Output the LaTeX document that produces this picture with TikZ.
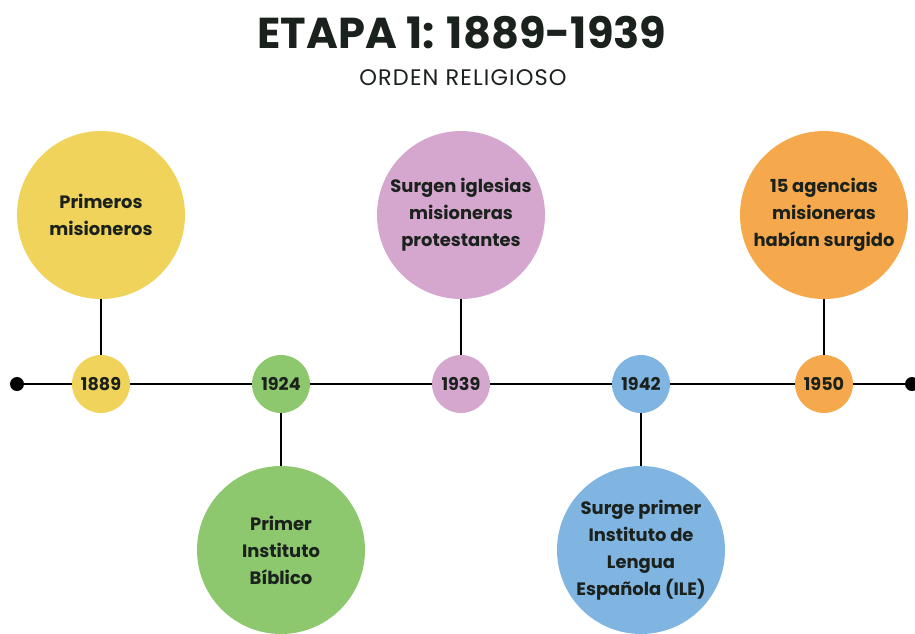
\documentclass[tikz,border=0pt]{standalone}
\usepackage{fontspec}
\setmainfont{Poppins}[BoldFont={Poppins Bold}]
\newfontfamily\titlefont{Poppins}[UprightFont={* Bold}]
\newfontfamily\subfont{Poppins}[LetterSpace=5]

\definecolor{ink}{HTML}{1B211C}
\definecolor{amarillo}{HTML}{F0D35A}
\definecolor{verde}{HTML}{8DC76E}
\definecolor{rosa}{HTML}{D5A7CF}
\definecolor{azul}{HTML}{80B5E1}
\definecolor{naranja}{HTML}{F5A94C}

\tikzset{
  year/.style  = {shape = circle, minimum size = 1.16cm, inner sep = 0pt,
                  text = ink, font = \bfseries\fontsize{10}{12}\selectfont},
  event/.style = {shape = circle, minimum size = 3.36cm, inner sep = 0pt,
                  text = ink, align = center,
                  font = \bfseries\fontsize{10.2}{15.4}\selectfont},
  stem/.style  = {line width = 1.2pt, draw = black},
  tip/.style   = {shape = circle, fill = black, minimum size = 0.28cm, inner sep = 0pt},
}

\begin{document}
\begin{tikzpicture}[x = 0.02cm, y = -0.02cm]
        \useasboundingbox (0, 0) rectangle (915, 633);

        % ------------------------------------------------------------------------
        % Title
        \node[font = \titlefont\fontsize{24.6}{28}\selectfont, text = ink] at (462, 33) (title) {ETAPA 1: 1889-1939};
        \node[font = \subfont\fontsize{12.8}{15}\selectfont, text = ink] at (463, 78) (sub) {ORDEN RELIGIOSO};

        % ------------------------------------------------------------------------
        % Line
        \node[tip] at ( 17, 384) (start) {};
        \node[tip] at (912, 384) (end) {};

        \node[year, fill = amarillo] at (101, 384) (y1889) {1889};
        \node[year, fill = verde]    at (281, 384) (y1924) {1924};
        \node[year, fill = rosa]     at (461, 384) (y1939) {1939};
        \node[year, fill = azul]     at (641, 384) (y1942) {1942};
        \node[year, fill = naranja]  at (824, 384) (y1950) {1950};

        \draw[stem]
          (start) edge (y1889)
          (y1889) edge (y1924)
          (y1924) edge (y1939)
          (y1939) edge (y1942)
          (y1942) edge (y1950)
          (y1950) edge (end)
        ;

        % ------------------------------------------------------------------------
        % Events
        \node[event, fill = amarillo] at (101, 215) (e1889) {Primeros\\misioneros};
        \node[event, fill = verde]    at (281, 550) (e1924) {Primer\\Instituto\\Bíblico};
        \node[event, fill = rosa]     at (461, 215) (e1939) {Surgen iglesias\\misioneras\\protestantes};
        \node[event, fill = azul]     at (641, 550) (e1942) {Surge primer\\Instituto de\\Lengua\\Española (ILE)};
        \node[event, fill = naranja]  at (824, 215) (e1950) {15 agencias\\misioneras\\habían surgido};

        \draw[stem]
          (e1889) edge (y1889)
          (y1924) edge (e1924)
          (e1939) edge (y1939)
          (y1942) edge (e1942)
          (e1950) edge (y1950)
        ;
      \end{tikzpicture}
\end{document}
